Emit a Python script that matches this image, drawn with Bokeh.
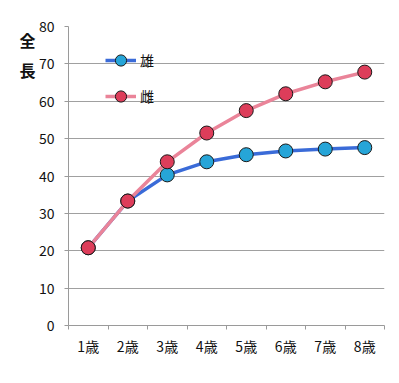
from bokeh.plotting import figure
from bokeh.models import Range1d, FixedTicker, Legend, LegendItem, LinearAxis
from bokeh.embed import file_html
from bokeh.resources import INLINE

categories = ["1歳", "2歳", "3歳", "4歳", "5歳", "6歳", "7歳", "8歳"]
male = [20.8, 33.3, 40.3, 43.8, 45.7, 46.7, 47.2, 47.6]
female = [20.8, 33.3, 43.8, 51.5, 57.5, 62.0, 65.2, 67.8]
y_ticks = [0, 10, 20, 30, 40, 50, 60, 70, 80]
series_names = ["雄", "雌"]
y_title = "全\n長"

xs = [i + 1 for i in range(len(categories))]
FONT = "Noto Sans CJK JP"

p = figure(width=391, height=375, output_backend="svg", toolbar_location=None,
           x_range=Range1d(0.5, len(categories) + 0.5), y_range=Range1d(0, 80),
           min_border_left=68, min_border_right=7, min_border_top=26, min_border_bottom=50)
p.outline_line_color = None
p.background_fill_color = "white"
p.border_fill_color = "white"

# x axis: labels at centers, tick marks at category boundaries
p.xaxis.ticker = FixedTicker(ticks=xs, minor_ticks=[x - 0.5 for x in xs] + [xs[-1] + 0.5])
p.xaxis.major_label_overrides = {x: c for x, c in zip(xs, categories)}
p.xaxis.major_tick_line_color = None
p.xaxis.major_tick_out = 0
p.xaxis.major_tick_in = 0
p.xaxis.minor_tick_out = 4
p.xaxis.minor_tick_in = 0
p.xaxis.minor_tick_line_color = "#9a9a9a"
p.xaxis.axis_line_color = "#9a9a9a"
p.xaxis.major_label_standoff = 6
p.xaxis.major_label_text_font = FONT
p.xaxis.major_label_text_font_size = "14px"
p.xaxis.major_label_text_color = "#111111"
p.xgrid.grid_line_color = None

p.yaxis.ticker = FixedTicker(ticks=y_ticks)
p.yaxis.axis_line_color = "#9a9a9a"
p.yaxis.major_tick_line_color = "#9a9a9a"
p.yaxis.major_tick_out = 4
p.yaxis.major_tick_in = 0
p.yaxis.minor_tick_line_color = None
p.yaxis.major_label_standoff = 10
p.yaxis.major_label_text_font = FONT
p.yaxis.major_label_text_font_size = "14px"
p.yaxis.major_label_text_color = "#111111"
p.ygrid.grid_line_color = "#a0a0a0"
p.ygrid.grid_line_width = 1

# stacked vertical title "全長" as a tick label of an extra left axis
title_axis = LinearAxis(ticker=FixedTicker(ticks=[72.5]), major_label_overrides={72.5: y_title},
                        axis_line_color=None, major_tick_line_color=None, minor_tick_line_color=None,
                        major_tick_out=0, major_tick_in=0, major_label_standoff=0,
                        major_label_text_font=FONT, major_label_text_font_size="16px",
                        major_label_text_font_style="bold", major_label_text_color="#111111",
                        major_label_text_line_height=1.25)
p.add_layout(title_axis, "left")

lm = p.line(xs, male, line_color="#3a6bd8", line_width=3.5)
sm = p.scatter(xs, male, size=14, fill_color="#26a5d8", line_color="#1a1a1a", line_width=1)
lf = p.line(xs, female, line_color="#ea8499", line_width=3.5)
sf = p.scatter(xs, female, size=14, fill_color="#dd3d5a", line_color="#1a1a1a", line_width=1)

legend = Legend(items=[LegendItem(label=series_names[0], renderers=[lm, sm]),
                       LegendItem(label=series_names[1], renderers=[lf, sf])],
                location=(37, 215), orientation="vertical",
                glyph_width=31, glyph_height=28, label_height=28, spacing=8,
                padding=0, margin=0, label_standoff=4,
                border_line_color=None, background_fill_alpha=0,
                label_text_font=FONT, label_text_font_size="14px", label_text_color="#111111")
p.add_layout(legend)

open("out.html", "w").write(file_html(p, INLINE))
